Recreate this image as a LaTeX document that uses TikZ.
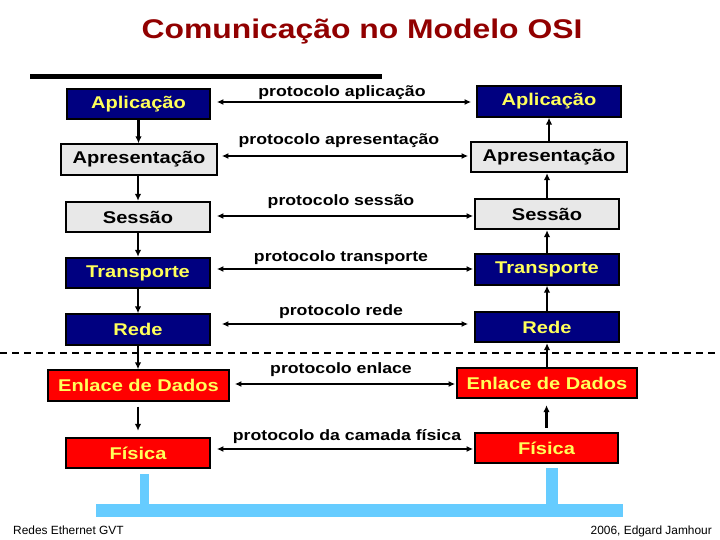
\documentclass[tikz,border=0pt]{standalone}
\usepackage{fontspec}
\setmainfont{Liberation Sans}
\newfontfamily\wfont[FakeStretch=1.18]{Liberation Sans}
\usetikzlibrary{arrows.meta}
\definecolor{navybg}{RGB}{0,0,128}
\definecolor{graybg}{RGB}{232,232,232}
\definecolor{redbg}{RGB}{255,0,0}
\definecolor{yellowtxt}{RGB}{255,255,90}
\definecolor{titlered}{RGB}{145,0,0}
\definecolor{cable}{RGB}{102,204,255}
\begin{document}
\begin{tikzpicture}[x=1pt,y=-1pt,
  layer/.style={draw=black, line width=1.8pt, minimum height=30.5pt, inner sep=0pt,
    font=\wfont\bfseries\fontsize{17}{20}\selectfont},
  navybox/.style={layer, fill=navybg, text=yellowtxt},
  graybox/.style={layer, fill=graybg, text=black},
  redbox/.style={layer, fill=redbg, text=yellowtxt},
  vlink/.style={line width=2.5pt, -{Latex[length=7pt,width=6.5pt]}},
  hlink/.style={line width=2pt, {Latex[length=6.5pt,width=6pt]}-{Latex[length=6.5pt,width=6pt]}},
  plabel/.style={font=\wfont\bfseries\fontsize{15}{18}\selectfont, inner sep=0pt, anchor=base},
  foot/.style={font=\fontsize{11.9}{13}\selectfont, inner sep=0pt},
]
\useasboundingbox (0,0) rectangle (720,540);

% title
\node[font=\wfont\bfseries\fontsize{27}{32}\selectfont, text=titlered, inner sep=0pt, anchor=base]
  (title) at (362,39) {Comunicação no Modelo OSI};

% black bar
\fill[black] (30,74) rectangle (382,79.5);

% dashed separator
\draw[line width=2.5pt, dash pattern=on 7pt off 5pt] (0,353) -- (720,353);

% left stack
\node[navybox, minimum width=143pt] (L1) at (138.5,104) {Aplicação};
\node[graybox, minimum width=156pt] (L2) at (139,159.5) {Apresentação};
\node[graybox, minimum width=144pt] (L3) at (138,217) {Sessão};
\node[navybox, minimum width=144pt] (L4) at (138,273) {Transporte};
\node[navybox, minimum width=144pt] (L5) at (138,329.5) {Rede};
\node[redbox, minimum width=181pt] (L6) at (138.5,385.5) {Enlace de Dados};
\node[redbox, minimum width=144pt] (L7) at (138,453) {Física};

% right stack
\node[navybox, minimum width=144pt] (R1) at (549,101.5) {Aplicação};
\node[graybox, minimum width=156pt] (R2) at (549,157) {Apresentação};
\node[graybox, minimum width=144pt] (R3) at (547,214) {Sessão};
\node[navybox, minimum width=144pt] (R4) at (547,269.5) {Transporte};
\node[navybox, minimum width=144pt] (R5) at (547,327) {Rede};
\node[redbox, minimum width=180pt] (R6) at (547,383) {Enlace de Dados};
\node[redbox, minimum width=143pt] (R7) at (546.5,448) {Física};

% vertical arrows, left (down)
\draw[vlink] (L1.south) -- (L1.south |- L2.north);
\draw[vlink] (L3.north |- L2.south) -- (L3.north);
\draw[vlink] (L3.south) -- (L3.south |- L4.north);
\draw[vlink] (L4.south) -- (L4.south |- L5.north);
\draw[vlink] (L5.south) -- (L5.south |- L6.north);
\draw[vlink, shorten <=5pt, shorten >=6pt] (L7.north |- L6.south) -- (L7.north);

% vertical arrows, right (up)
\draw[vlink] (R1.south |- R2.north) -- (R1.south);
\draw[vlink] (R3.north) -- (R3.north |- R2.south);
\draw[vlink] (R4.north) -- (R4.north |- R3.south);
\draw[vlink] (R5.north) -- (R5.north |- R4.south);
\draw[vlink] (R6.north) -- (R6.north |- R5.south);
\draw[vlink, shorten <=4pt, shorten >=6pt] (R7.north) -- (R7.north |- R6.south);

% horizontal protocol arrows
\coordinate (h1) at (0,102);
\coordinate (h2) at (0,156);
\coordinate (h3) at (0,216);
\coordinate (h4) at (0,269);
\coordinate (h5) at (0,324);
\coordinate (h6) at (0,384);
\coordinate (h7) at (0,449);
\draw[hlink, shorten <=6pt, shorten >=5pt] (L1.east |- h1) -- (R1.west |- h1);
\draw[hlink, shorten <=4pt, shorten >=2pt] (L2.east |- h2) -- (R2.west |- h2);
\draw[hlink, shorten <=6pt, shorten >=1pt] (L3.east |- h3) -- (R3.west |- h3);
\draw[hlink, shorten <=6pt, shorten >=1pt] (L4.east |- h4) -- (R4.west |- h4);
\draw[hlink, shorten <=11pt, shorten >=6pt] (L5.east |- h5) -- (R5.west |- h5);
\draw[hlink, shorten <=5pt, shorten >=1pt] (L6.east |- h6) -- (R6.west |- h6);
\draw[hlink, shorten <=6pt, shorten >=1pt] (L7.east |- h7) -- (R7.west |- h7);

% protocol labels
\node[plabel] (p1) at (342,97) {protocolo aplicação};
\node[plabel] (p2) at (339,145) {protocolo apresentação};
\node[plabel] (p3) at (341,206) {protocolo sessão};
\node[plabel] (p4) at (341,261) {protocolo transporte};
\node[plabel] (p5) at (341,315) {protocolo rede};
\node[plabel] (p6) at (341,373) {protocolo enlace};
\node[plabel] (p7) at (347,440) {protocolo da camada física};

% cable
\fill[cable] (96,504) rectangle (623,517);
\fill[cable] (140,474) rectangle (149,504);
\fill[cable] (546,468) rectangle (558,504);

% footers
\node[foot, anchor=base west] (f1) at (13,534) {Redes Ethernet GVT};
\node[foot, anchor=base east] (f2) at (712,534) {2006, Edgard Jamhour};
\end{tikzpicture}
\end{document}
